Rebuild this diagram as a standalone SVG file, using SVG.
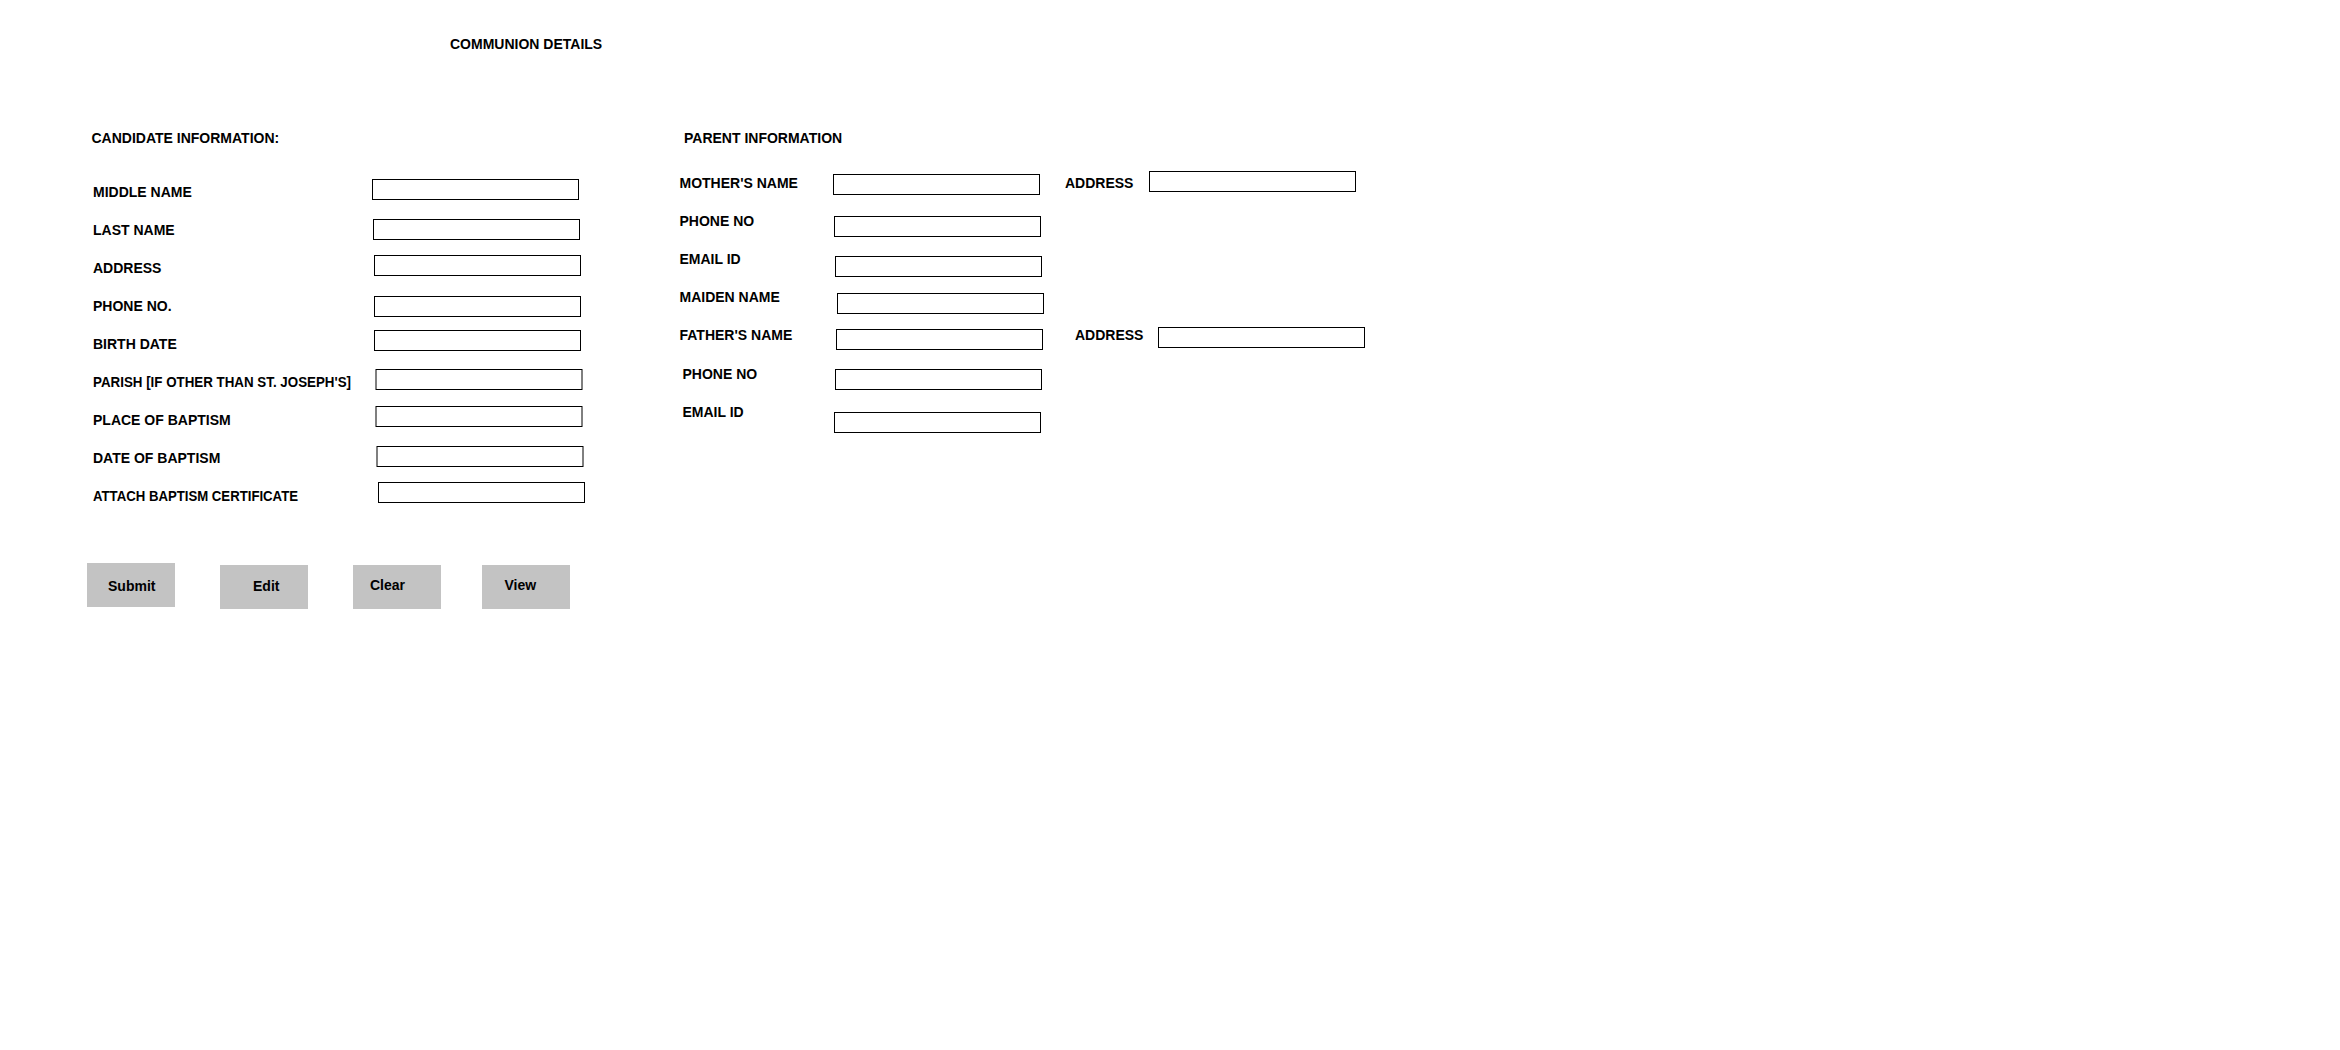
<svg xmlns="http://www.w3.org/2000/svg" width="2340" height="1050" viewBox="0 0 2340 1050">
<style>
text{font-family:"Liberation Sans",Arial,sans-serif;font-weight:bold;font-size:14px;fill:#000}
.box{fill:#fff;stroke:#000;stroke-width:1}
.btn{fill:#c3c3c3;stroke:none}
</style>
<rect width="2340" height="1050" fill="#fff"/>
<g id="title"><text x="450" y="49">COMMUNION DETAILS</text></g>
<g id="candidate">
<text x="91.5" y="143">CANDIDATE INFORMATION:</text>
<g id="middle-name"><text x="93" y="197">MIDDLE NAME</text><rect class="box" x="372.5" y="179.5" width="206" height="20"/></g>
<g id="last-name"><text x="93" y="235">LAST NAME</text><rect class="box" x="373.5" y="219.5" width="206" height="20"/></g>
<g id="address"><text x="93" y="273">ADDRESS</text><rect class="box" x="374.5" y="255.5" width="206" height="20"/></g>
<g id="phone"><text x="93" y="311">PHONE NO.</text><rect class="box" x="374.5" y="296.5" width="206" height="20"/></g>
<g id="birth-date"><text x="93" y="349">BIRTH DATE</text><rect class="box" x="374.5" y="330.5" width="206" height="20"/></g>
<g id="parish"><text x="93" y="387" textLength="258" lengthAdjust="spacingAndGlyphs">PARISH [IF OTHER THAN ST. JOSEPH'S]</text><rect class="box" x="376" y="369.5" width="206" height="20"/></g>
<g id="place-baptism"><text x="93" y="425">PLACE OF BAPTISM</text><rect class="box" x="376" y="406.5" width="206" height="20"/></g>
<g id="date-baptism"><text x="93" y="463">DATE OF BAPTISM</text><rect class="box" x="377" y="446.5" width="206" height="20"/></g>
<g id="attach"><text x="93" y="501" textLength="205" lengthAdjust="spacingAndGlyphs">ATTACH BAPTISM CERTIFICATE</text><rect class="box" x="378.5" y="482.5" width="206" height="20"/></g>
</g>
<g id="parent">
<text x="684" y="143">PARENT INFORMATION</text>
<g id="mother-name"><text x="679.5" y="188">MOTHER'S NAME</text><rect class="box" x="833.5" y="174.5" width="206" height="20"/></g>
<g id="mother-address"><text x="1065" y="188">ADDRESS</text><rect class="box" x="1149.5" y="171.5" width="206" height="20"/></g>
<g id="mother-phone"><text x="679.5" y="226">PHONE NO</text><rect class="box" x="834.5" y="216.5" width="206" height="20"/></g>
<g id="mother-email"><text x="679.5" y="264">EMAIL ID</text><rect class="box" x="835.5" y="256.5" width="206" height="20"/></g>
<g id="maiden-name"><text x="679.5" y="302">MAIDEN NAME</text><rect class="box" x="837.5" y="293.5" width="206" height="20"/></g>
<g id="father-name"><text x="679.5" y="340">FATHER'S NAME</text><rect class="box" x="836.5" y="329.5" width="206" height="20"/></g>
<g id="father-address"><text x="1075" y="340">ADDRESS</text><rect class="box" x="1158.5" y="327.5" width="206" height="20"/></g>
<g id="father-phone"><text x="682.5" y="379">PHONE NO</text><rect class="box" x="835.5" y="369.5" width="206" height="20"/></g>
<g id="father-email"><text x="682.5" y="417">EMAIL ID</text><rect class="box" x="834.5" y="412.5" width="206" height="20"/></g>
</g>
<g id="buttons">
<g id="btn-submit"><rect class="btn" x="87" y="563" width="88" height="44"/><text x="108" y="591">Submit</text></g>
<g id="btn-edit"><rect class="btn" x="220" y="565" width="88" height="44"/><text x="253" y="591">Edit</text></g>
<g id="btn-clear"><rect class="btn" x="353" y="565" width="88" height="44"/><text x="370" y="590">Clear</text></g>
<g id="btn-view"><rect class="btn" x="482" y="565" width="88" height="44"/><text x="504.5" y="590">View</text></g>
</g>
<g id="connectors"/>
</svg>
